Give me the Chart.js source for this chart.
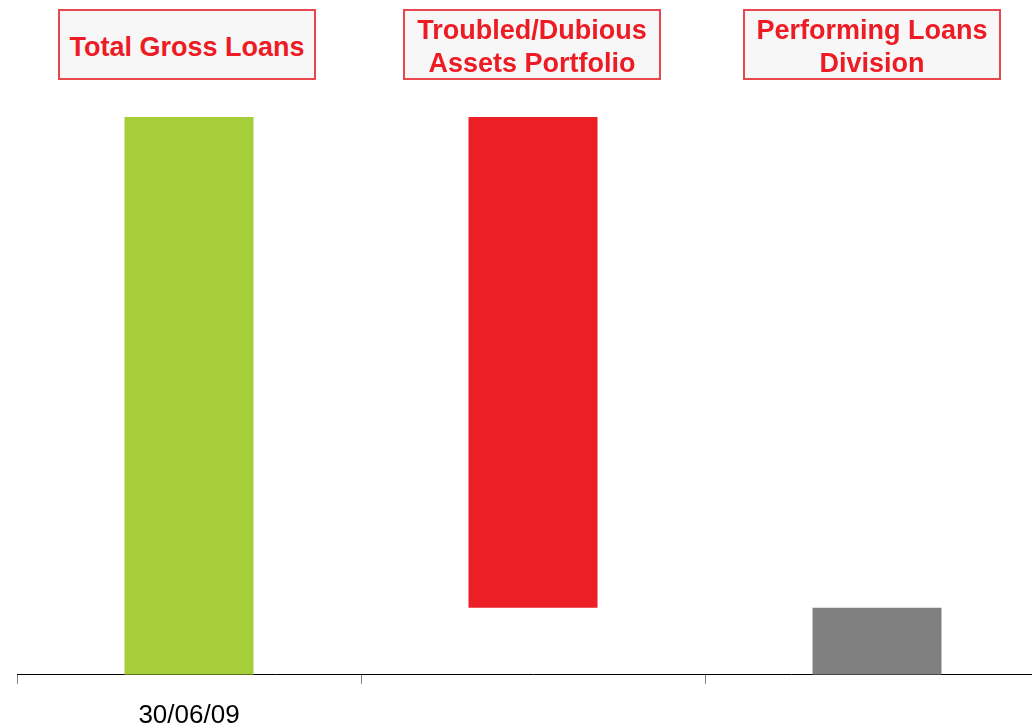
<!DOCTYPE html>
<html>
<head>
<meta charset="utf-8">
<script src="https://cdn.jsdelivr.net/npm/chart.js@4"></script>
<style>
  html, body { margin: 0; padding: 0; background: #ffffff; overflow: hidden; }
  #wrap { position: relative; width: 1032px; height: 728px; overflow: hidden; }
  #c { position: absolute; left: 0; top: 0; }
  .hdr {
    position: absolute; top: 9px; height: 71px; box-sizing: border-box;
    border: 2px solid #e9474f; background: #f7f7f7;
    color: #ed1c24; font-family: "Liberation Sans", Arial, sans-serif;
    font-weight: bold; font-size: 27px; line-height: 33px;
    display: flex; align-items: center; justify-content: center; text-align: center;
    white-space: nowrap; padding-top: 5px;
  }
</style>
</head>
<body>
<div id="wrap">
  <canvas id="c" width="1050" height="747"></canvas>
  <div class="hdr" style="left:58px;width:258px;">Total Gross Loans</div>
  <div class="hdr" style="left:403px;width:258px;">Troubled/Dubious<br>Assets Portfolio</div>
  <div class="hdr" style="left:743px;width:258px;">Performing Loans<br>Division</div>
</div>
<script>
// Data
const categories = ["30/06/09", "", ""];
const barStart = [0, 12, 0];
const barEnd = [100, 100, 12];
const barColors = ["#a6ce39", "#ec1f26", "#808080"];

const ctx = document.getElementById('c').getContext('2d');
new Chart(ctx, {
  type: 'bar',
  data: {
    labels: categories,
    datasets: [{
      data: barStart.map((s, i) => [s, barEnd[i]]),
      backgroundColor: barColors,
      borderWidth: 0,
      barPercentage: 0.375,
      categoryPercentage: 1.0
    }]
  },
  options: {
    responsive: false,
    animation: false,
    devicePixelRatio: 1,
    layout: { padding: { left: 17, right: 1, top: 117, bottom: 0 } },
    plugins: { legend: { display: false }, tooltip: { enabled: false } },
    scales: {
      x: {
        offset: true,
        grid: {
          display: true, drawOnChartArea: false, drawTicks: true,
          tickLength: 9, color: '#808080', lineWidth: 1, offset: true
        },
        border: { display: true, color: '#000000', width: 1 },
        ticks: {
          color: '#000000', padding: 16,
          font: { family: '"Liberation Sans", Arial, sans-serif', size: 26 },
          maxRotation: 0, autoSkip: false
        }
      },
      y: {
        display: false,
        min: 0, max: 100
      }
    }
  }
});
</script>
</body>
</html>
